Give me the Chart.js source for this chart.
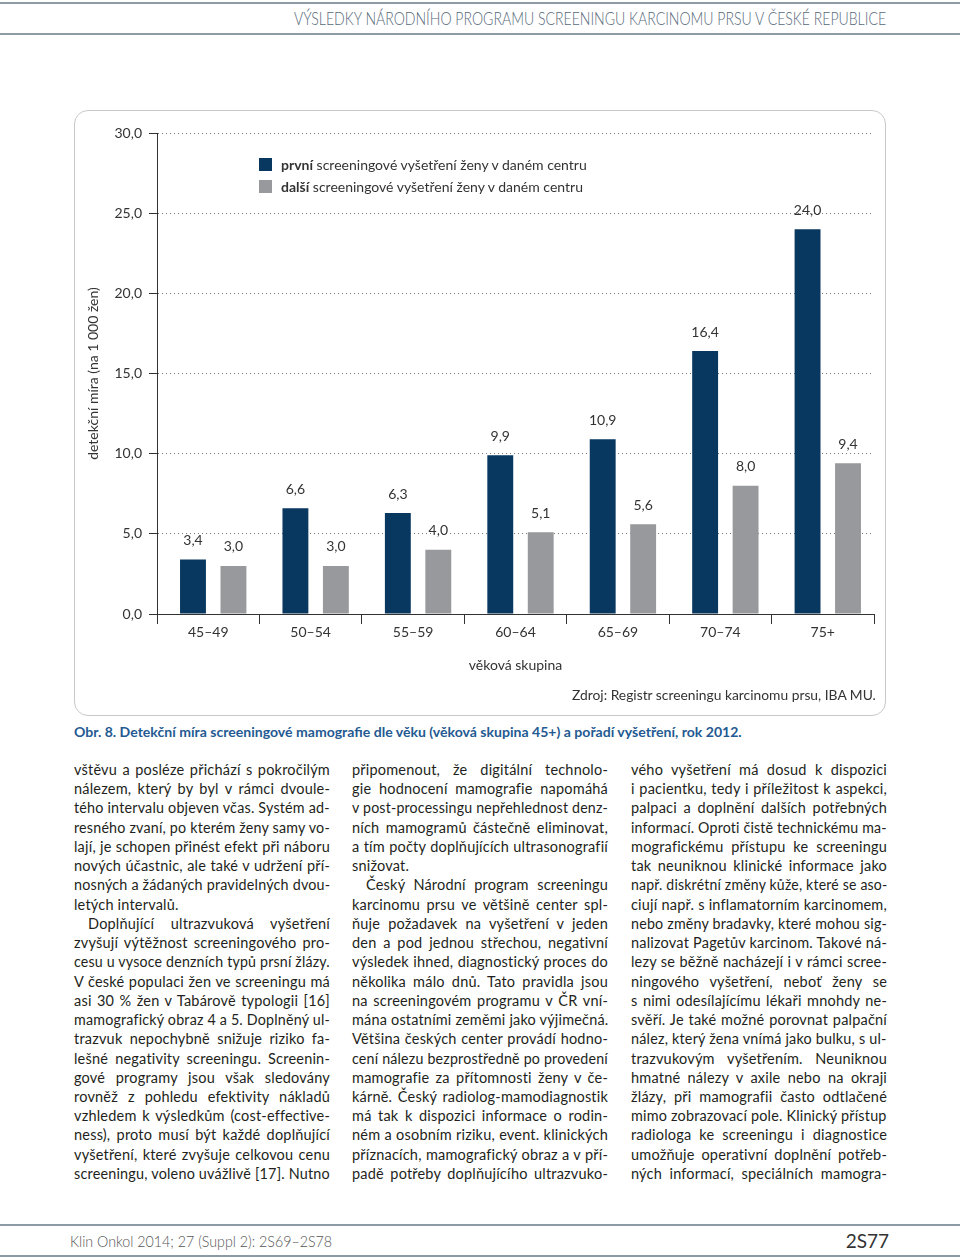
<!DOCTYPE html>
<html lang="cs">
<head>
<meta charset="utf-8">
<title>Detekční míra screeningové mamografie</title>
<script src="https://cdn.jsdelivr.net/npm/chart.js@4.4.1/dist/chart.umd.min.js"></script>
<style>
  body { margin: 0; background: #fff; }
  #page { position: relative; width: 960px; height: 1258px; overflow: hidden; font-family: Lato, "Open Sans", sans-serif; color: #231f20; }
  .rule { position: absolute; left: 0; width: 960px; height: 2px; background: #8d9ba5; }
  #header { position: absolute; right: 74px; top: 8px; font-size: 17px; font-weight: 300; color: #56697a; white-space: nowrap; line-height: 22px; transform-origin: right center; }
  #frame { position: absolute; left: 74px; top: 110px; width: 812px; height: 606px; box-sizing: border-box; border: 1.5px solid #c8c8c8; border-radius: 14px; }
  #chartBox { position: absolute; left: 74px; top: 110px; width: 812px; height: 600px; }
  .leg { position: absolute; left: 259px; font-size: 14px; line-height: 19px; color: #333; white-space: nowrap; }
  .leg i { position: absolute; left: 0; top: 3px; width: 13px; height: 13px; }
  .leg span { position: absolute; left: 22px; top: 0; }
  #source { position: absolute; right: 84px; top: 686px; font-size: 14px; line-height: 18px; color: #333; white-space: nowrap; transform-origin: right center; }
  #caption { position: absolute; left: 74px; top: 723px; font-size: 14px; line-height: 18px; font-weight: 700; color: #245a92; white-space: nowrap; transform-origin: left center; }
  .col { position: absolute; top: 760px; width: 256px; font-size: 14.5px; letter-spacing: 0.2px; line-height: 19.24px; color: #231f20; }
  .col div { white-space: nowrap; text-align: justify; text-align-last: justify; transform-origin: left center; }
  .col div.e { text-align-last: left; }
  .col div.i { text-indent: 14px; }
  #measure { position: absolute; left: 0; top: 0; visibility: hidden; white-space: nowrap; font-size: 14.5px; letter-spacing: 0.2px; }
  #footL { position: absolute; left: 70px; top: 1231px; font-size: 15px; font-weight: 300; line-height: 20px; color: #555; white-space: nowrap; transform-origin: left center; }
  #footR { position: absolute; right: 71px; top: 1229px; font-size: 19px; line-height: 24px; color: #333; white-space: nowrap; }
</style>
</head>
<body>
<div id="page">
  <div class="rule" style="top:2px"></div>
  <div id="header">VÝSLEDKY NÁRODNÍHO PROGRAMU SCREENINGU KARCINOMU PRSU V ČESKÉ REPUBLICE</div>
  <div class="rule" style="top:33px"></div>

  <div id="frame"></div>
  <div id="chartBox"><canvas id="chart" width="812" height="600"></canvas></div>

  <div class="leg" style="top:155px"><i style="background:#083760"></i><span><b>první</b> screeningové vyšetření ženy v daném centru</span></div>
  <div class="leg" style="top:177px"><i style="background:#98999d"></i><span><b>další</b> screeningové vyšetření ženy v daném centru</span></div>

  <div id="source">Zdroj: Registr screeningu karcinomu prsu, IBA MU.</div>
  <div id="caption">Obr. 8. Detekční míra screeningové mamografie dle věku (věková skupina 45+) a pořadí vyšetření, rok 2012.</div>

  <div class="col" style="left:74px">
    <div>vštěvu a posléze přichází s pokročilým</div>
    <div>nálezem, který by byl v rámci dvoule-</div>
    <div>tého intervalu objeven včas. Systém ad-</div>
    <div>resného zvaní, po kterém ženy samy vo-</div>
    <div>lají, je schopen přinést efekt při náboru</div>
    <div>nových účastnic, ale také v udržení pří-</div>
    <div>nosných a žádaných pravidelných dvou-</div>
    <div class="e">letých intervalů.</div>
    <div class="i">Doplňující ultrazvuková vyšetření</div>
    <div>zvyšují výtěžnost screeningového pro-</div>
    <div>cesu u vysoce denzních typů prsní žlázy.</div>
    <div>V české populaci žen ve screeningu má</div>
    <div>asi 30 % žen v Tabárově typologii [16]</div>
    <div>mamografický obraz 4 a 5. Doplněný ul-</div>
    <div>trazvuk nepochybně snižuje riziko fa-</div>
    <div>lešné negativity screeningu. Screenin-</div>
    <div>gové programy jsou však sledovány</div>
    <div>rovněž z pohledu efektivity nákladů</div>
    <div>vzhledem k výsledkům (cost-effective-</div>
    <div>ness), proto musí být každé doplňující</div>
    <div>vyšetření, které zvyšuje celkovou cenu</div>
    <div>screeningu, voleno uvážlivě [17]. Nutno</div>
  </div>
  <div class="col" style="left:352px">
    <div>připomenout, že digitální technolo-</div>
    <div>gie hodnocení mamografie napomáhá</div>
    <div>v post-processingu nepřehlednost denz-</div>
    <div>ních mamogramů částečně eliminovat,</div>
    <div>a tím počty doplňujících ultrasonografií</div>
    <div class="e">snižovat.</div>
    <div class="i">Český Národní program screeningu</div>
    <div>karcinomu prsu ve většině center spl-</div>
    <div>ňuje požadavek na vyšetření v jeden</div>
    <div>den a pod jednou střechou, negativní</div>
    <div>výsledek ihned, diagnostický proces do</div>
    <div>několika málo dnů. Tato pravidla jsou</div>
    <div>na screeningovém programu v ČR vní-</div>
    <div>mána ostatními zeměmi jako výjimečná.</div>
    <div>Většina českých center provádí hodno-</div>
    <div>cení nálezu bezprostředně po provedení</div>
    <div>mamografie za přítomnosti ženy v če-</div>
    <div>kárně. Český radiolog-mamodiagnostik</div>
    <div>má tak k dispozici informace o rodin-</div>
    <div>ném a osobním riziku, event. klinických</div>
    <div>příznacích, mamografický obraz a v pří-</div>
    <div>padě potřeby doplňujícího ultrazvuko-</div>
  </div>
  <div class="col" style="left:631px">
    <div>vého vyšetření má dosud k dispozici</div>
    <div>i pacientku, tedy i příležitost k aspekci,</div>
    <div>palpaci a doplnění dalších potřebných</div>
    <div>informací. Oproti čistě technickému ma-</div>
    <div>mografickému přístupu ke screeningu</div>
    <div>tak neuniknou klinické informace jako</div>
    <div>např. diskrétní změny kůže, které se aso-</div>
    <div>ciují např. s inflamatorním karcinomem,</div>
    <div>nebo změny bradavky, které mohou sig-</div>
    <div>nalizovat Pagetův karcinom. Takové ná-</div>
    <div>lezy se běžně nacházejí i v rámci scree-</div>
    <div>ningového vyšetření, neboť ženy se</div>
    <div>s nimi odesílajícímu lékaři mnohdy ne-</div>
    <div>svěří. Je také možné porovnat palpační</div>
    <div>nález, který žena vnímá jako bulku, s ul-</div>
    <div>trazvukovým vyšetřením. Neuniknou</div>
    <div>hmatné nálezy v axile nebo na okraji</div>
    <div>žlázy, při mamografii často odtlačené</div>
    <div>mimo zobrazovací pole. Klinický přístup</div>
    <div>radiologa ke screeningu i diagnostice</div>
    <div>umožňuje operativní doplnění potřeb-</div>
    <div>ných informací, speciálních mamogra-</div>
  </div>
  <span id="measure"></span>

  <div class="rule" style="top:1224px"></div>
  <div id="footL">Klin Onkol 2014; 27 (Suppl 2): 2S69–2S78</div>
  <div id="footR">2S77</div>
  <div class="rule" style="top:1255px"></div>
</div>

<script>
// data
const ageGroups = ["45–49", "50–54", "55–59", "60–64", "65–69", "70–74", "75+"];
const firstScreening = [3.4, 6.6, 6.3, 9.9, 10.9, 16.4, 24.0];
const nextScreening = [3.0, 3.0, 4.0, 5.1, 5.6, 8.0, 9.4];
const yTicks = [0, 5, 10, 15, 20, 25, 30];

const navy = "#083760";
const grey = "#98999d";
const textColor = "#333333";
const barShift = 5; // v originale jsou sloupce mirne posunute doprava od popisku

const fmt = v => v.toFixed(1).replace(".", ",");

Chart.defaults.font.family = 'Lato, "Open Sans", sans-serif';
Chart.defaults.font.size = 14;
Chart.defaults.color = textColor;

// sloupce + hodnoty nad nimi
const valueLabels = {
  id: "valueLabels",
  beforeDatasetsDraw(chart) {
    chart.ctx.save();
    chart.ctx.translate(barShift, 0);
  },
  afterDatasetsDraw(chart) {
    const ctx = chart.ctx;
    ctx.font = '14px Lato, "Open Sans", sans-serif';
    ctx.fillStyle = textColor;
    ctx.textAlign = "center";
    ctx.textBaseline = "middle";
    chart.data.datasets.forEach((ds, i) => {
      chart.getDatasetMeta(i).data.forEach((bar, j) => {
        ctx.fillText(fmt(ds.data[j]), bar.x, bar.y - 19);
      });
    });
    ctx.restore();
  }
};

const ctx = document.getElementById("chart").getContext("2d");
new Chart(ctx, {
  type: "bar",
  data: {
    labels: ageGroups,
    datasets: [
      { label: "první", data: firstScreening, backgroundColor: navy, barPercentage: 0.64, categoryPercentage: 0.79 },
      { label: "další", data: nextScreening, backgroundColor: grey, barPercentage: 0.64, categoryPercentage: 0.79 }
    ]
  },
  options: {
    responsive: false,
    animation: false,
    layout: { padding: { top: 23, right: 12, bottom: 16, left: 0 } },
    plugins: { legend: { display: false }, tooltip: { enabled: false } },
    scales: {
      x: {
        grid: { offset: true, drawOnChartArea: false, drawTicks: true, tickLength: 10, color: "#333", tickColor: "#333" },
        border: { display: true, color: "#333", width: 1 },
        ticks: { color: textColor, padding: 0 },
        title: { display: true, text: "věková skupina", color: textColor, padding: { top: 0, bottom: 20 } },
        afterFit(s) { s.height = 80; }
      },
      y: {
        min: 0,
        max: 30,
        afterBuildTicks(s) { s.ticks = yTicks.map(v => ({ value: v })); },
        ticks: { callback: v => fmt(v), color: textColor, padding: 7 },
        grid: { color: "#777", lineWidth: 1, tickLength: 8, tickColor: "#333", tickBorderDash: [] },
        border: { display: true, color: "#333", dash: [1, 3] },
        title: { display: true, text: "detekční míra (na 1 000 žen)", color: textColor, padding: { top: 11, bottom: 0 } },
        afterFit(s) { s.width = 83; }
      }
    }
  },
  plugins: [valueLabels]
});

function fitWidth(id, target) {
  const el = document.getElementById(id);
  el.style.transform = "scaleX(" + (target / el.scrollWidth) + ")";
}
fitWidth("header", 592);
fitWidth("caption", 668);
fitWidth("footL", 262);
fitWidth("source", 304);

// radky sloupcu: kdyz se radek nevejde, mirne ho zuzit
const measure = document.getElementById("measure");
document.querySelectorAll(".col div").forEach(line => {
  measure.textContent = line.textContent;
  const w = measure.offsetWidth + (line.classList.contains("i") ? 14 : 0);
  if (w > 256) {
    line.style.textAlignLast = "left";
    line.style.transform = "scaleX(" + (256 / w) + ")";
  }
});
</script>
</body>
</html>
